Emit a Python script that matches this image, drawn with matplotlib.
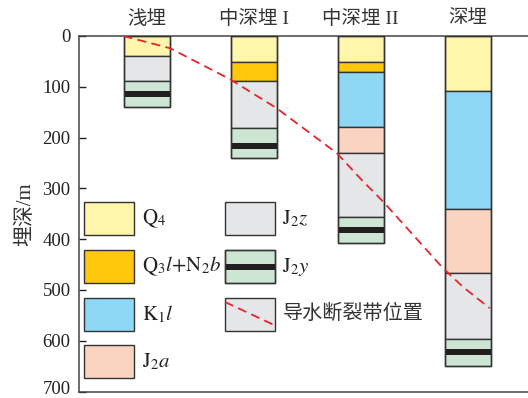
import matplotlib
matplotlib.use("Agg")
import matplotlib.pyplot as plt
from matplotlib.patches import Rectangle
from matplotlib.lines import Line2D
from matplotlib.transforms import blended_transform_factory, ScaledTranslation

plt.rcParams['font.family'] = ['Liberation Serif', 'Noto Sans CJK SC', 'DejaVu Sans']
plt.rcParams['mathtext.fontset'] = 'stix'

# ---- data ----
columns = ['浅埋', '中深埋 I', '中深埋 II', '深埋']
col_x = [1, 2, 3, 4]

# layer boundaries (depth, m) and stratum of each interval, per column
bounds_shallow = [0, 39, 89, 140]
strata_shallow = ['Q4', 'J2z', 'J2y']
bounds_mid1 = [0, 51, 89, 182, 241]
strata_mid1 = ['Q4', 'Q3N2', 'J2z', 'J2y']
bounds_mid2 = [0, 51, 70, 180, 231, 356, 408]
strata_mid2 = ['Q4', 'Q3N2', 'K1l', 'J2a', 'J2z', 'J2y']
bounds_deep = [0, 108, 341, 466, 597, 649]
strata_deep = ['Q4', 'K1l', 'J2a', 'J2z', 'J2y']

# coal seam within J2y (top, bottom depth, m)
coal_top = [109, 211, 376, 616]
coal_bottom = [120, 222, 387, 628]

# top of water-conducting fracture zone
frac_x = [0.78, 1.215, 1.776, 2.212, 2.778, 3.007, 3.209, 3.769, 3.956, 4.206]
frac_depth = [0, 24, 85, 142, 231, 283, 326, 457, 494, 536]

colors = {
    'Q4': '#FFF6AC',
    'Q3N2': '#FFC80C',
    'K1l': '#8ED7F5',
    'J2a': '#FBD3C1',
    'J2z': '#E5E6E8',
    'J2y': '#CDE6D3',
}
coal_color = '#231F20'
edge = '#333333'
red = '#E8242C'

legend_labels = {
    'Q4': r'$\mathrm{Q}_4$',
    'Q3N2': r'$\mathrm{Q}_3l\mathrm{+N}_2b$',
    'K1l': r'$\mathrm{K}_1l$',
    'J2a': r'$\mathrm{J}_2a$',
    'J2z': r'$\mathrm{J}_2z$',
    'J2y': r'$\mathrm{J}_2y$',
}

W, H = 528, 398
fig = plt.figure(figsize=(W / 100, H / 100), dpi=100)
ax_l, ax_t, ax_r, ax_b = 79, 36, 528, 391.5
ax = fig.add_axes([ax_l / W, 1 - ax_b / H, (ax_r - ax_l) / W, (ax_b - ax_t) / H])

bar_w = 0.43
all_bounds = [bounds_shallow, bounds_mid1, bounds_mid2, bounds_deep]
all_strata = [strata_shallow, strata_mid1, strata_mid2, strata_deep]

for x, bnds, strata, ct, cb in zip(col_x, all_bounds, all_strata, coal_top, coal_bottom):
    for top, bot, s in zip(bnds[:-1], bnds[1:], strata):
        ax.bar(x, bot - top, bottom=top, width=bar_w, color=colors[s],
               edgecolor=edge, linewidth=1.0, zorder=2)
    ax.bar(x, cb - ct, bottom=ct, width=bar_w, color=coal_color,
           edgecolor='none', linewidth=0, zorder=3)
    # redraw outline on top
    ax.bar(x, bnds[-1], bottom=0, width=bar_w, color='none',
           edgecolor=edge, linewidth=1.0, zorder=4)

ax.plot(frac_x, frac_depth, color=red, lw=1.3, dashes=(5, 3), zorder=5)

ax.set_xlim(0.364, 4.565)
ax.set_ylim(700, 0)
ax.set_yticks(range(0, 701, 100))
ax.set_xticks([])
ax.tick_params(axis='y', direction='in', length=5, width=1.0, labelsize=13.5,
               pad=6, colors='#222222')
# lift the bottom tick label so it stays on the canvas
ax.get_yticklabels()[-1].set_transform(
    ax.get_yticklabels()[-1].get_transform()
    + ScaledTranslation(0, 4 / 100, fig.dpi_scale_trans))
for s in ['top', 'left', 'bottom']:
    ax.spines[s].set_color('#444444')
    ax.spines[s].set_linewidth(1.1)
ax.spines['right'].set_visible(False)
ax.set_ylabel('埋深/m', fontsize=15, color='#333333', labelpad=5)

trans = blended_transform_factory(ax.transData, ax.transAxes)
for x, name in zip(col_x, columns):
    ax.text(x, 1.0 + 17 / (ax_b - ax_t), name, transform=trans, ha='center',
            va='center', fontsize=14, color='#333333')

# ---- legend (drawn in pixel layout converted to axes fraction) ----
def px2ax(px, py):
    return (px - ax_l) / (ax_r - ax_l), (ax_b - py) / (ax_b - ax_t)

box_w, box_h = 50, 33
col1 = ['Q4', 'Q3N2', 'K1l', 'J2a']
col2 = ['J2z', 'J2y']
row_tops = [202, 250, 298, 345]

def legend_box(px, py, face):
    x0, y0 = px2ax(px, py + box_h)
    x1, y1 = px2ax(px + box_w, py)
    r = Rectangle((x0, y0), x1 - x0, y1 - y0, transform=ax.transAxes,
                  facecolor=face, edgecolor=edge, linewidth=1.0, zorder=6)
    ax.add_patch(r)
    return x0, y0, x1, y1

for key, top in zip(col1, row_tops):
    legend_box(83.5, top, colors[key])
    tx, ty = px2ax(141.5, top + box_h / 2)
    ax.text(tx, ty, legend_labels[key], transform=ax.transAxes, ha='left',
            va='center', fontsize=15, color='#222222', zorder=6)

for key, top in zip(col2, row_tops[:2]):
    x0, y0, x1, y1 = legend_box(224.5, top, colors[key])
    if key == 'J2y':
        bx0, by0 = px2ax(224.5, top + box_h / 2 + 3)
        bx1, by1 = px2ax(224.5 + box_w, top + box_h / 2 - 3)
        ax.add_patch(Rectangle((bx0, by0), bx1 - bx0, by1 - by0,
                               transform=ax.transAxes, facecolor=coal_color,
                               edgecolor='none', zorder=6.5))
        ax.add_patch(Rectangle((x0, y0), x1 - x0, y1 - y0, transform=ax.transAxes,
                               facecolor='none', edgecolor=edge, linewidth=1.0,
                               zorder=7))
    tx, ty = px2ax(282.5, top + box_h / 2)
    ax.text(tx, ty, legend_labels[key], transform=ax.transAxes, ha='left',
            va='center', fontsize=15, color='#222222', zorder=6)

top = row_tops[2]
x0, y0, x1, y1 = legend_box(224.5, top, colors['J2z'])
lx0, ly0 = px2ax(225, top + 4)
lx1, ly1 = px2ax(274, top + 27)
ax.add_line(Line2D([lx0, lx1], [ly0, ly1], transform=ax.transAxes, color=red,
                   lw=1.3, dashes=(5, 3), zorder=7))
tx, ty = px2ax(282.5, top + box_h / 2)
ax.text(tx, ty, '导水断裂带位置', transform=ax.transAxes, ha='left', va='center',
        fontsize=14.5, color='#333333', zorder=6)

fig.savefig('out.png', dpi=100)
